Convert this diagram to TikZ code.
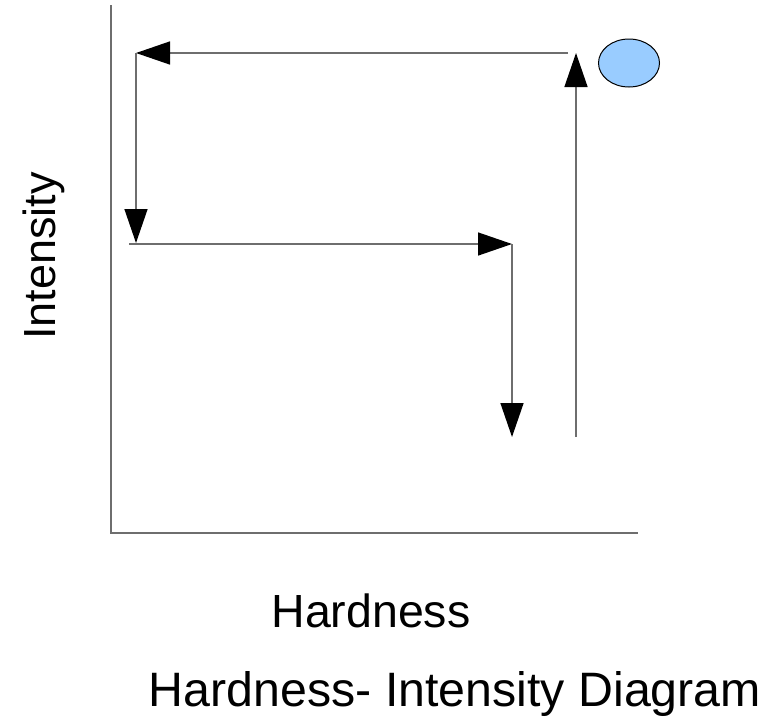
\documentclass[tikz,border=0pt]{standalone}
\usepackage{fontspec}
\setmainfont{Liberation Sans}
\usetikzlibrary{arrows.meta,shapes.geometric}
\definecolor{linegray}{RGB}{110,110,110}
\definecolor{dotblue}{RGB}{153,204,255}
\tikzset{
  axisline/.style={draw=linegray, line width=1.4pt},
  flow/.style={draw=linegray, line width=1.4pt, -{Triangle[length=34pt,width=23pt,black]}},
  label/.style={inner sep=0pt, anchor=base, text=black},
}
\begin{document}
\begin{tikzpicture}[x=1pt,y=-1pt]
\useasboundingbox (0,0) rectangle (775,718);
% axes
\coordinate (ytop) at (111,5);
\coordinate (origin) at (111,533);
\coordinate (xend) at (638,533);
\draw[axisline] (ytop) -- (origin) -- (xend);
% cycle points
\coordinate (p1) at (568,53);
\coordinate (p2) at (136,53);
\coordinate (p3) at (136,243);
\coordinate (p4s) at (129,244);
\coordinate (p4) at (512,244);
\coordinate (p5) at (512,437);
\coordinate (p6) at (576,437);
\coordinate (p7) at (576,53);
\draw[flow] (p1) -- (p2);
\draw[flow] (p2) -- (p3);
\draw[flow] (p4s) -- (p4);
\draw[flow] (p4) -- (p5);
\draw[flow] (p6) -- (p7);
% ellipse
\node[ellipse, draw=black, line width=1pt, fill=dotblue, minimum width=61pt, minimum height=48pt, inner sep=0pt] (dot) at (629,63) {};
% labels
\node[label, rotate=90] (ylab) at (55,256) {\fontsize{45}{54}\selectfont Intensity};
\node[label] (xlab) at (371,627) {\fontsize{46.5}{56}\selectfont Hardness};
\node[label] (title) at (455,706) {\fontsize{48.3}{58}\selectfont Hardness- Intensity Diagram};
\end{tikzpicture}
\end{document}
